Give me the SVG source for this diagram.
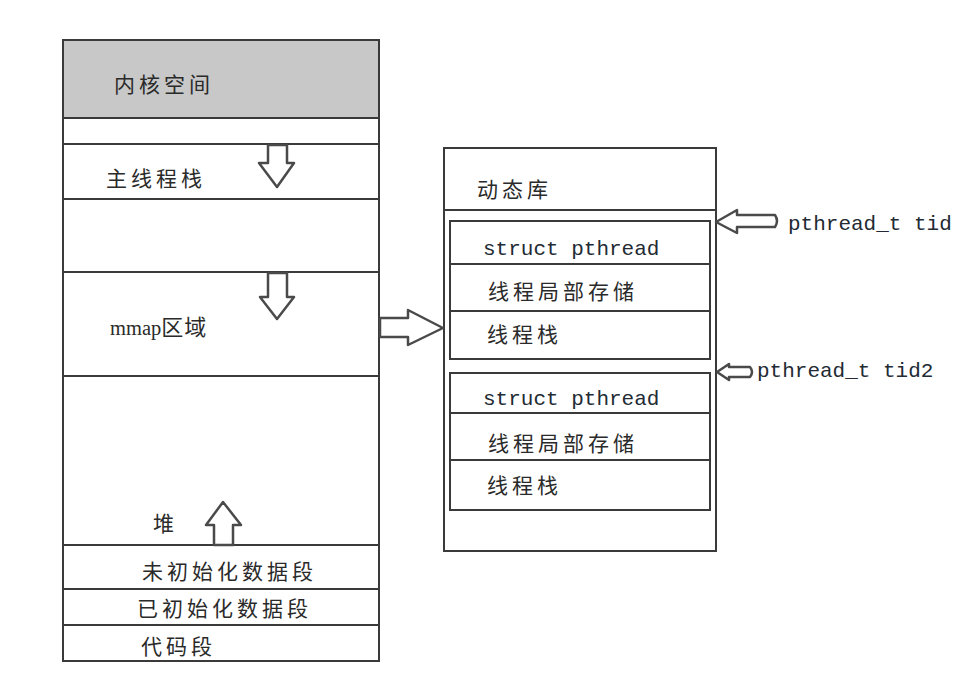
<svg xmlns="http://www.w3.org/2000/svg" width="970" height="697" viewBox="0 0 970 697">
<style>
.box{fill:#fff;stroke:#3a3a3a;stroke-width:2}
.sep{stroke:#3a3a3a;stroke-width:2;fill:none}
.cn{font-family:"Noto Sans CJK SC","Noto Sans",sans-serif;font-size:21px;letter-spacing:4px;fill:#2a2a2a}
.mono{font-family:"Liberation Mono","DejaVu Sans Mono",monospace;font-size:21px;fill:#222a33}
.serif{font-family:"Liberation Serif","Noto Sans CJK SC",serif;font-size:20.5px;fill:#2a2a2a}
.arrow{fill:#fff;stroke:#4a4a4a;stroke-width:2.5;stroke-linejoin:round}
</style>
<rect width="970" height="697" fill="#fff"/>
<g id="process-memory">
  <rect class="box" x="63" y="40" width="316" height="621"/>
  <rect x="64" y="41" width="314" height="76" fill="#c8c8c8"/>
  <line class="sep" x1="63" y1="118" x2="379" y2="118"/>
  <line class="sep" x1="63" y1="144" x2="379" y2="144"/>
  <line class="sep" x1="63" y1="199" x2="379" y2="199"/>
  <line class="sep" x1="63" y1="272" x2="379" y2="272"/>
  <line class="sep" x1="63" y1="376" x2="379" y2="376"/>
  <line class="sep" x1="63" y1="545" x2="379" y2="545"/>
  <line class="sep" x1="63" y1="589" x2="379" y2="589"/>
  <line class="sep" x1="63" y1="625" x2="379" y2="625"/>
  <text class="cn" x="114" y="92">内核空间</text>
  <text class="cn" x="106" y="186">主线程栈</text>
  <text class="serif" x="110" y="335">mmap<tspan font-family="Noto Sans CJK SC,sans-serif" font-size="22px" letter-spacing="1px">区域</tspan></text>
  <text class="cn" x="153" y="531">堆</text>
  <text class="cn" x="142" y="579">未初始化数据段</text>
  <text class="cn" x="137" y="616">已初始化数据段</text>
  <text class="cn" x="141" y="654">代码段</text>
</g>
<g id="dynamic-lib">
  <rect class="box" x="444" y="148" width="272" height="403"/>
  <line class="sep" x1="444" y1="210" x2="716" y2="210"/>
  <text class="cn" x="477" y="197">动态库</text>
</g>
<g id="thread1">
  <rect class="box" x="450" y="221" width="260" height="138"/>
  <line class="sep" x1="450" y1="264" x2="710" y2="264"/>
  <line class="sep" x1="450" y1="311" x2="710" y2="311"/>
  <text class="mono" x="483" y="255">struct pthread</text>
  <text class="cn" x="488" y="299">线程局部存储</text>
  <text class="cn" x="487" y="342">线程栈</text>
</g>
<g id="thread2">
  <rect class="box" x="450" y="373" width="260" height="137"/>
  <line class="sep" x1="450" y1="413" x2="710" y2="413"/>
  <line class="sep" x1="450" y1="460" x2="710" y2="460"/>
  <text class="mono" x="483" y="405">struct pthread</text>
  <text class="cn" x="488" y="451">线程局部存储</text>
  <text class="cn" x="487" y="493">线程栈</text>
</g>
<g id="labels">
  <text class="mono" x="788" y="230">pthread_t tid</text>
  <text class="mono" x="757" y="377">pthread_t tid2</text>
</g>
<g id="connectors">
  <path class="arrow" d="M268,145 H287 V163 H294 L277,187 L259,163 H268 Z"/>
  <path class="arrow" d="M268,273 H287 V297 H294 L277,319 L260,297 H268 Z"/>
  <path class="arrow" d="M214,545 V525 H206 L223,502 L241,525 H233 V545 Z"/>
  <path class="arrow" d="M380,318 H408 V310 L443,328 L408,345 V337 H380 Z"/>
  <path class="arrow" d="M775,215 Q779,221 775,227 H737 V233 L716,222 L737,210 V215 Z"/>
  <path class="arrow" d="M750,367 Q754,372 750,377 H729 V380 L717,372 L729,364 V367 Z"/>
</g>
</svg>
